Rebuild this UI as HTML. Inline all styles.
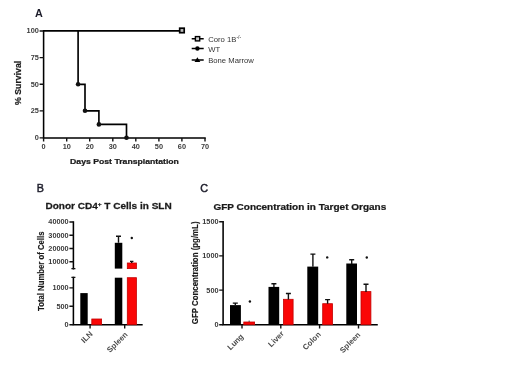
<!DOCTYPE html>
<html><head><meta charset="utf-8">
<style>
html,body{margin:0;padding:0;background:#fff;}
body{width:520px;height:390px;overflow:hidden;}
svg{display:block;filter:blur(0.45px);}
text{font-family:"Liberation Sans",sans-serif;}
.t{font-weight:bold;font-size:6.8px;fill:#3a3a3a;}
.ttl{font-weight:bold;fill:#1a1a1a;stroke:#1a1a1a;stroke-width:0.25;}
.lbl{font-weight:bold;font-size:10.8px;fill:#1c1c2a;}
.lbl2{font-weight:normal;font-size:10.8px;fill:#1c1c2a;stroke:#1c1c2a;stroke-width:0.45;}
.ax{stroke:#000;stroke-width:1.55;fill:none;stroke-linecap:square;}
.tk{stroke:#111;stroke-width:1.4;fill:none;}
.ln{stroke:#000;stroke-width:1.65;fill:none;}
.cat{font-weight:bold;font-size:7.8px;fill:#4a4a4a;}
.leg{font-size:7.2px;fill:#333;}
</style></head>
<body>
<svg width="520" height="390" viewBox="0 0 520 390">
<rect width="520" height="390" fill="#fff"/>

<text x="35.1" y="16.6" class="lbl">A</text>
<path class="ax" d="M43.6 30.8 V137.9 H205"/>
<path class="tk" d="M39.6 31 H43.6 M39.6 57.6 H43.6 M39.6 84.3 H43.6 M39.6 110.9 H43.6 M39.6 137.9 H43.6"/>
<path class="tk" d="M43.6 137.9 V141.5 M66.7 137.9 V141.5 M89.7 137.9 V141.5 M112.8 137.9 V141.5 M135.8 137.9 V141.5 M158.9 137.9 V141.5 M181.9 137.9 V141.5 M205.0 137.9 V141.5"/>
<g class="t">
<text transform="translate(38.8 33.3) scale(1.08 1)" text-anchor="end">100</text>
<text transform="translate(38.8 59.9) scale(1.08 1)" text-anchor="end">75</text>
<text transform="translate(38.8 86.6) scale(1.08 1)" text-anchor="end">50</text>
<text transform="translate(38.8 113.2) scale(1.08 1)" text-anchor="end">25</text>
<text transform="translate(38.8 140.3) scale(1.08 1)" text-anchor="end">0</text>
<text transform="translate(43.6 149.4) scale(1.08 1)" text-anchor="middle">0</text>
<text transform="translate(66.7 149.4) scale(1.08 1)" text-anchor="middle">10</text>
<text transform="translate(89.7 149.4) scale(1.08 1)" text-anchor="middle">20</text>
<text transform="translate(112.8 149.4) scale(1.08 1)" text-anchor="middle">30</text>
<text transform="translate(135.8 149.4) scale(1.08 1)" text-anchor="middle">40</text>
<text transform="translate(158.9 149.4) scale(1.08 1)" text-anchor="middle">50</text>
<text transform="translate(181.9 149.4) scale(1.08 1)" text-anchor="middle">60</text>
<text transform="translate(205.0 149.4) scale(1.08 1)" text-anchor="middle">70</text>
</g>
<text transform="translate(70.1 163.9) scale(1.085 1)" class="ttl" style="font-size:8.0px">Days Post Transplantation</text>
<text transform="translate(20.6 105) rotate(-90) scale(1 1.0)" class="ttl" style="font-size:8.75px;stroke-width:0.2">% Survival</text>
<path class="ln" d="M43.6 30.8 H181.9"/>
<path class="ln" d="M78.1 31 V84.3 H85 V110.8 H98.9 V124.4 H126.5 V137.9"/>
<g fill="#111">
<circle cx="78.1" cy="84.3" r="2.3"/>
<circle cx="85" cy="110.8" r="2.3"/>
<circle cx="98.9" cy="124.4" r="2.3"/>
<circle cx="126.5" cy="137.8" r="2.3"/>
</g>
<rect x="179.7" y="28.2" width="4.5" height="4.5" fill="#bbb" stroke="#000" stroke-width="1.7"/>
<path class="ln" d="M191.7 38.7 H203.7 M191.7 48.5 H203.7 M191.7 60 H203.7" style="stroke-width:1.5"/>
<rect x="195.4" y="36.6" width="4.3" height="4.3" fill="#ccc" stroke="#000" stroke-width="1.4"/>
<circle cx="197.4" cy="48.5" r="2.2" fill="#000"/>
<path d="M197.4 57.2 L200.3 62 L194.5 62 Z" fill="#000"/>
<g class="leg">
<text transform="translate(208.2 41.8) scale(1.07 1)">Coro 1B<tspan dy="-3" style="font-size:4.8px">-/-</tspan></text>
<text transform="translate(208.2 51.5) scale(1.07 1)">WT</text>
<text transform="translate(208.2 63) scale(1.07 1)">Bone Marrow</text>
</g>
<text x="36.8" y="192.1" class="lbl2">B</text>
<text transform="translate(45.4 209.4) scale(1.08 1)" class="ttl" style="font-size:9.3px">Donor CD4<tspan dy="-3.9" style="font-size:6px">+</tspan><tspan dy="3.9"> T Cells in SLN</tspan></text>
<path class="ax" d="M73.4 222 V268.6 M73.4 277.4 V324.7 H141.9"/>
<path class="tk" d="M69.4 222 H73.4 M69.4 235.3 H73.4 M69.4 248.5 H73.4 M69.4 261.7 H73.4 M71.4 268.6 H75.4 M71.4 277.4 H75.4 M69.4 287.9 H73.4 M69.4 306.2 H73.4 M69.4 324.7 H73.4 M90.1 324.7 V328.6 M124.7 324.7 V328.6"/>
<g class="t">
<text transform="translate(68.7 224.4) scale(1.08 1)" text-anchor="end">40000</text>
<text transform="translate(68.7 237.7) scale(1.08 1)" text-anchor="end">30000</text>
<text transform="translate(68.7 250.9) scale(1.08 1)" text-anchor="end">20000</text>
<text transform="translate(68.7 264.1) scale(1.08 1)" text-anchor="end">10000</text>
<text transform="translate(68.7 290.3) scale(1.08 1)" text-anchor="end">1000</text>
<text transform="translate(68.7 308.6) scale(1.08 1)" text-anchor="end">500</text>
<text transform="translate(68.7 327.1) scale(1.08 1)" text-anchor="end">0</text>
</g>
<text transform="translate(44.1 311) rotate(-90) scale(1 1.085)" class="ttl" style="font-size:7.75px;stroke-width:0.15">Total Number of Cells</text>
<rect x="80.3" y="293.1" width="7.4" height="31.6" fill="#000"/>
<rect x="91.8" y="319" width="9.8" height="5.7" fill="#fa0606" stroke="#c40000" stroke-width="0.8"/>
<rect x="114.8" y="242.8" width="7.5" height="25.8" fill="#000"/>
<rect x="114.8" y="277.7" width="7.5" height="47" fill="#000"/>
<rect x="127.3" y="263" width="9.1" height="5.6" fill="#fa0606" stroke="#c40000" stroke-width="0.8"/>
<rect x="127.3" y="277.7" width="9.1" height="47" fill="#fa0606" stroke="#c40000" stroke-width="0.8"/>
<path class="tk" d="M118.5 236.2 V242.8 M116 236.2 H121 M131.7 261.4 V263 M130 261.4 H133.4"/>
<circle cx="131.8" cy="238" r="1.2" fill="#111"/>
<text transform="translate(93.2 334.5) rotate(-45)" class="cat" text-anchor="end">ILN</text>
<text transform="translate(128.2 335) rotate(-45)" class="cat" text-anchor="end">Spleen</text>
<text x="200.2" y="192.2" class="lbl2">C</text>
<text transform="translate(213.5 210.2) scale(1.075 1)" class="ttl" style="font-size:9.3px">GFP Concentration in Target Organs</text>
<path class="ax" d="M223.1 221.8 V324.7 H377"/>
<path class="tk" d="M219.2 221.8 H223.1 M219.2 255.9 H223.1 M219.2 290.1 H223.1 M219.2 324.7 H223.1 M242 324.7 V328.5 M280.8 324.7 V328.5 M319.6 324.7 V328.5 M358.5 324.7 V328.5"/>
<g class="t">
<text transform="translate(218.6 224.3) scale(1.08 1)" text-anchor="end">1500</text>
<text transform="translate(218.6 258.4) scale(1.08 1)" text-anchor="end">1000</text>
<text transform="translate(218.6 292.6) scale(1.08 1)" text-anchor="end">500</text>
<text transform="translate(218.6 327) scale(1.08 1)" text-anchor="end">0</text>
</g>
<text transform="translate(197.8 324.2) rotate(-90) scale(1 1.05)" class="ttl" style="font-size:7.9px;stroke-width:0.15">GFP Concentration (pg/mL)</text>
<g fill="#000">
<rect x="230" y="305.1" width="10.9" height="19.6"/>
<rect x="268.5" y="286.9" width="10.7" height="37.8"/>
<rect x="307.3" y="266.6" width="10.9" height="58.1"/>
<rect x="346.3" y="263.5" width="10.7" height="61.2"/>
</g>
<g fill="#fa0606" stroke="#c40000" stroke-width="0.8">
<rect x="243.8" y="322" width="10.8" height="2.7"/>
<rect x="283.5" y="299.3" width="9.6" height="25.4"/>
<rect x="322.7" y="303.7" width="9.8" height="21.0"/>
<rect x="361" y="291.6" width="9.9" height="33.1"/>
</g>
<path class="tk" d="M235.3 303.1 V305.1 M232.8 303.1 H237.8
M273.9 283.8 V286.9 M271.4 283.8 H276.4
M288.4 293.5 V299.5 M285.9 293.5 H290.9
M312.9 254.1 V266.8 M310.4 254.1 H315.4
M327.6 299.6 V303.7 M325.1 299.6 H330.1
M351.7 259.8 V264 M349.2 259.8 H354.2
M366 284.3 V292 M363.5 284.3 H368.5
M249.2 320.8 V321.5"/>
<g fill="#111">
<circle cx="249.9" cy="301.5" r="1.2"/>
<circle cx="327.2" cy="257.4" r="1.2"/>
<circle cx="366.8" cy="257.5" r="1.2"/>
</g>
<text transform="translate(244 337) rotate(-45)" class="cat" text-anchor="end">Lung</text>
<text transform="translate(284.5 334.2) rotate(-45)" class="cat" text-anchor="end">Liver</text>
<text transform="translate(321.3 335) rotate(-45)" class="cat" text-anchor="end">Colon</text>
<text transform="translate(361 335.3) rotate(-45)" class="cat" text-anchor="end">Spleen</text>
</svg>
</body></html>
